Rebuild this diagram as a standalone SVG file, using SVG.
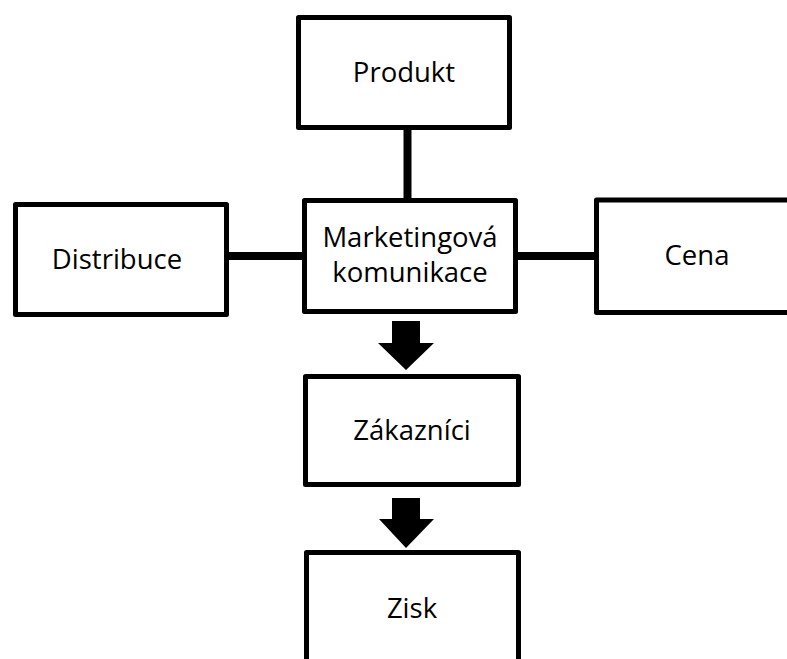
<svg xmlns="http://www.w3.org/2000/svg" width="787" height="659" viewBox="0 0 787 659">
  <style>
    .box { fill: #ffffff; stroke: #000000; stroke-width: 5; stroke-linejoin: round; }
    .lbl { font-family: "Open Sans", "Noto Sans", "Liberation Sans", sans-serif; font-size: 27.5px; fill: #000000; text-anchor: middle; }
    .link { stroke: #000000; stroke-width: 8; fill: none; }
    .arrow { fill: #000000; stroke: none; }
  </style>
  <rect x="0" y="0" width="787" height="659" fill="#ffffff"/>
  <g id="connectors">
    <line class="link" x1="407.5" y1="128" x2="407.5" y2="200"/>
    <line class="link" x1="227" y1="256" x2="304" y2="256"/>
    <line class="link" x1="516" y1="256" x2="596" y2="256"/>
    <polygon class="arrow" points="392,321 420,321 420,343 434,343 406,370 378,343 392,343"/>
    <polygon class="arrow" points="392,498 420,498 420,519 434,519 406,548 379,519 392,519"/>
  </g>
  <g id="produkt">
    <rect class="box" x="298.5" y="17.5" width="211" height="110"/>
    <text class="lbl" x="404" y="82">Produkt</text>
  </g>
  <g id="distribuce">
    <rect class="box" x="15.5" y="204.5" width="211" height="110"/>
    <text class="lbl" x="117" y="269">Distribuce</text>
  </g>
  <g id="marketingova-komunikace">
    <rect class="box" x="304.5" y="200.5" width="211" height="111"/>
    <text class="lbl" x="410" y="247">Marketingová</text>
    <text class="lbl" x="410" y="282">komunikace</text>
  </g>
  <g id="cena">
    <rect class="box" x="596.5" y="200" width="220" height="112.5"/>
    <text class="lbl" x="697" y="265">Cena</text>
  </g>
  <g id="zakaznici">
    <rect class="box" x="305.5" y="376.5" width="213" height="108"/>
    <text class="lbl" x="412" y="440">Zákazníci</text>
  </g>
  <g id="zisk">
    <path class="box" d="M306.5,670 L306.5,552.5 L518.5,552.5 L518.5,670"/>
    <text class="lbl" x="412" y="618">Zisk</text>
  </g>
</svg>
